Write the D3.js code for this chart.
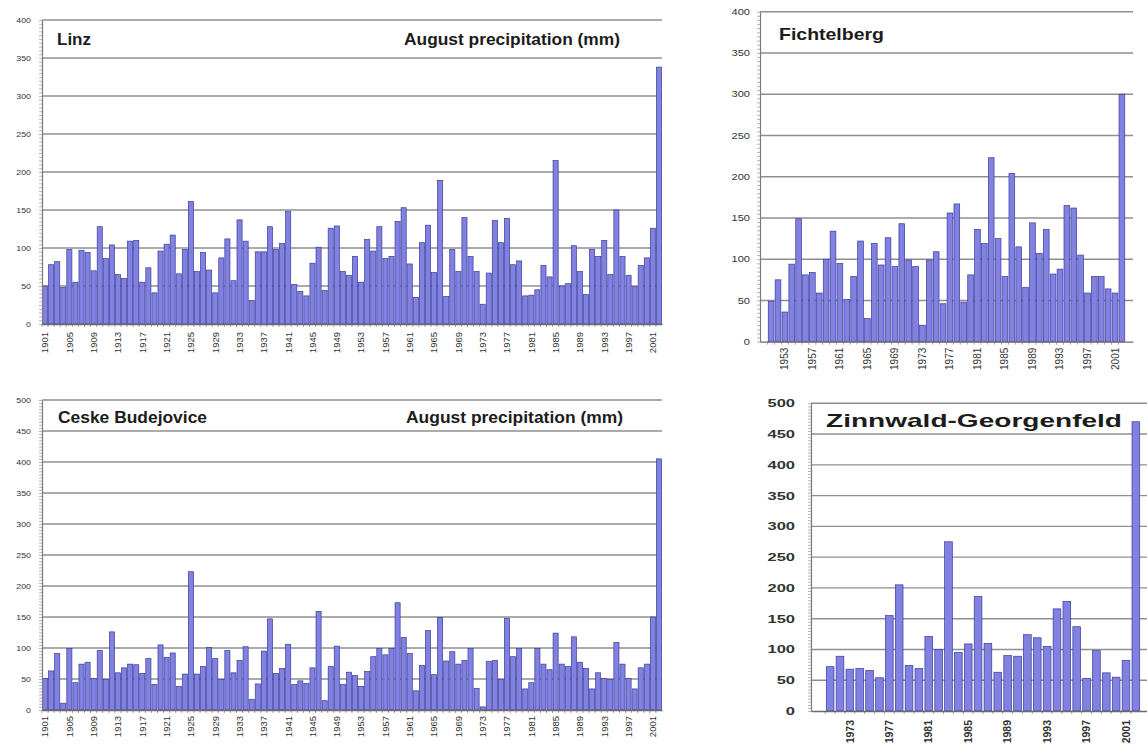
<!DOCTYPE html>
<html><head><meta charset="utf-8">
<script src="https://cdn.jsdelivr.net/npm/d3@7"></script>
<style>
body{margin:0;background:#fff}
svg{display:block}
text{font-family:Arial,"Liberation Sans",sans-serif}
</style>
</head><body>
<svg id="c" width="1147" height="746"></svg>
<script>
// ---------- DATA ----------
const linzYears = d3.range(1901, 2003);
const linzValues = [50,78,82,48,98,55,97,94,70,128, 86,104,65,60,109,110,55,74,41,96,
  105,117,66,98,161,69,94,71,41,87, 112,57,137,109,31,95,95,128,98,106,
  148,52,43,37,80,101,44,126,129,69, 64,89,55,111,96,128,86,89,135,153,
  79,35,107,130,68,189,36,98,69,140, 89,69,26,67,136,107,139,78,83,37,
  38,45,77,62,215,50,53,103,69,39, 98,89,110,65,150,89,64,49,77,87,
  126,338];
const ceskeYears = d3.range(1901, 2003);
const ceskeValues = [51,63,91,11,99,44,74,77,51,96, 49,126,60,68,74,73,59,83,41,105,
  85,92,38,58,223,58,70,101,83,49, 96,60,80,102,17,42,95,147,59,67,
  106,41,47,43,68,159,15,70,103,41, 61,56,38,62,86,99,89,99,173,117,
  91,31,72,128,57,149,79,94,74,80, 99,35,5,78,80,49,148,86,99,34,
  44,99,74,65,124,74,70,118,77,67, 34,60,51,49,109,74,51,34,68,74,
  150,405];
const fichtelYears = d3.range(1951, 2003);
const fichtelValues = [49,75,36,94,149,81,84,59,100,134, 95,51,79,122,28,119,93,126,91,143,
  99,91,20,99,109,46,156,167,48,81, 136,119,223,125,79,204,115,66,144,107,
  136,82,88,165,162,105,59,79,79,64, 59,300];
const zinnYears = d3.range(1971, 2003);
const zinnValues = [72,89,68,69,66,54,155,205,74,69, 121,100,275,95,109,186,110,63,90,89,
  124,119,105,166,178,137,53,98,62,55, 82,470];

const centuryTickYears = [1901,1905,1909,1913,1917,1921,1925,1929,1933,1937,1941,1945,1949,
  1953,1957,1961,1965,1969,1973,1977,1981,1985,1989,1993,1997,2001];
const fichtelTickYears = [1953,1957,1961,1965,1969,1973,1977,1981,1985,1989,1993,1997,2001];
const zinnTickYears = [1973,1977,1981,1985,1989,1993,1997,2001];
const yTicks400 = [0,50,100,150,200,250,300,350,400];
const yTicks500 = [0,50,100,150,200,250,300,350,400,450,500];

const subtitle = "August precipitation (mm)";

// ---------- DRAW ----------
const svg = d3.select("#c");

function stretch(sel, factor) {
  sel.each(function () {
    const w = this.getComputedTextLength();
    if (factor !== 1) d3.select(this).attr("textLength", w * factor).attr("lengthAdjust", "spacingAndGlyphs");
  });
}

function drawPanel(o) {
  const g = svg.append("g");
  const x = d3.scaleBand().domain(o.years).range([o.left, o.right])
    .paddingInner(o.pi).paddingOuter(o.po);
  const y = d3.scaleLinear().domain([0, o.yMax]).range([o.bottom, o.top]);

  // gridlines
  g.append("g").selectAll("line").data(o.yTicks.filter(t => t > 0)).join("line")
    .attr("x1", o.left).attr("x2", o.right)
    .attr("y1", d => y(d)).attr("y2", d => y(d))
    .attr("stroke", "#8f8f8f").attr("stroke-width", 1.4);

  // bars
  g.append("g").selectAll("rect").data(o.years).join("rect")
    .attr("x", d => x(d)).attr("width", x.bandwidth())
    .attr("y", (d, i) => y(o.values[i]))
    .attr("height", (d, i) => y(0) - y(o.values[i]))
    .attr("fill", "#8181e1").attr("stroke", "#3b3b9a").attr("stroke-width", 0.7);

  // minor y ticks
  const minor = d3.axisLeft(y).tickValues(d3.range(0, o.yMax + 0.1, 5)).tickSize(3).tickFormat("");
  const mg = g.append("g").attr("transform", `translate(${o.left},0)`).call(minor);
  mg.select(".domain").remove();
  mg.selectAll("line").attr("stroke", "#9a9a9a").attr("stroke-width", 0.7);

  // y axis with labels
  const ya = d3.axisLeft(y).tickValues(o.yTicks).tickSize(0).tickSizeOuter(0).tickPadding(o.yGap);
  const yg = g.append("g").attr("transform", `translate(${o.left},0)`).call(ya);
  yg.attr("font-family", null).attr("font-size", null);
  yg.select(".domain").attr("stroke", "#7a7a7a").attr("stroke-width", 1.2);
  yg.selectAll("text").attr("font-size", o.yFont).attr("font-weight", o.yBold ? "bold" : "normal")
    .attr("fill", "#333");
  stretch(yg.selectAll("text"), o.yStretch);

  // category ticks on x axis
  const half = x.step() * x.paddingInner() / 2;
  g.append("g").selectAll("line").data(o.years).join("line")
    .attr("x1", d => x(d) - half).attr("x2", d => x(d) - half)
    .attr("y1", o.bottom).attr("y2", o.bottom + 3)
    .attr("stroke", "#8a8a8a").attr("stroke-width", 0.8);

  // x axis with rotated labels
  const xa = d3.axisBottom(x).tickValues(o.tickYears).tickSize(0).tickSizeOuter(0).tickPadding(0);
  const xg = g.append("g").attr("transform", `translate(0,${o.bottom})`).call(xa);
  xg.attr("font-family", null).attr("font-size", null);
  xg.select(".domain").attr("stroke", "#6a6a6a").attr("stroke-width", 1.3);
  xg.selectAll("text")
    .attr("transform", "rotate(-90)").attr("text-anchor", "end")
    .attr("x", -o.xGap).attr("y", 0).attr("dy", "0.35em")
    .attr("font-size", o.xFont).attr("font-weight", o.xBold ? "bold" : "normal")
    .attr("fill", "#333");

  // titles
  o.titles.forEach(t => {
    g.append("text").attr("x", t.x).attr("y", t.y).text(t.text)
      .attr("font-size", t.size).attr("font-weight", "bold").attr("fill", "#1c1c1c")
      .attr("textLength", t.w).attr("lengthAdjust", "spacingAndGlyphs");
  });
}

drawPanel({
  years: linzYears, values: linzValues, tickYears: centuryTickYears, yTicks: yTicks400, yMax: 400,
  left: 42, right: 662, top: 20, bottom: 324, pi: 0.16, po: 0.08,
  yGap: 11, yFont: 8, yStretch: 1.1, xGap: 8, xFont: 9.5,
  titles: [{text: "Linz", x: 57, y: 45, size: 16, w: 34},
           {text: subtitle, x: 404, y: 45, size: 16, w: 216}]
});

drawPanel({
  years: ceskeYears, values: ceskeValues, tickYears: centuryTickYears, yTicks: yTicks500, yMax: 500,
  left: 42, right: 662, top: 400, bottom: 710, pi: 0.16, po: 0.08,
  yGap: 11, yFont: 8, yStretch: 1.1, xGap: 6, xFont: 9.5,
  titles: [{text: "Ceske Budejovice", x: 58, y: 422.5, size: 16, w: 149},
           {text: subtitle, x: 406, y: 422.5, size: 16, w: 217}]
});

drawPanel({
  years: fichtelYears, values: fichtelValues, tickYears: fichtelTickYears, yTicks: yTicks400, yMax: 400,
  left: 760, right: 1133, top: 11.7, bottom: 341.7, pi: 0.17, po: 1.2,
  yGap: 10, yFont: 8.5, yStretch: 1.3, xGap: 6, xFont: 10,
  titles: [{text: "Fichtelberg", x: 779, y: 39.5, size: 17, w: 105}]
});

drawPanel({
  years: zinnYears, values: zinnValues, tickYears: zinnTickYears, yTicks: yTicks500, yMax: 500,
  left: 811, right: 1155, top: 403.3, bottom: 711, pi: 0.22, po: 1.55,
  yGap: 16, yFont: 11, yBold: true, yStretch: 1.5, xGap: 9, xFont: 10.5, xBold: true,
  titles: [{text: "Zinnwald-Georgenfeld", x: 826, y: 427, size: 18.5, w: 296}]
});
</script>
</body></html>
